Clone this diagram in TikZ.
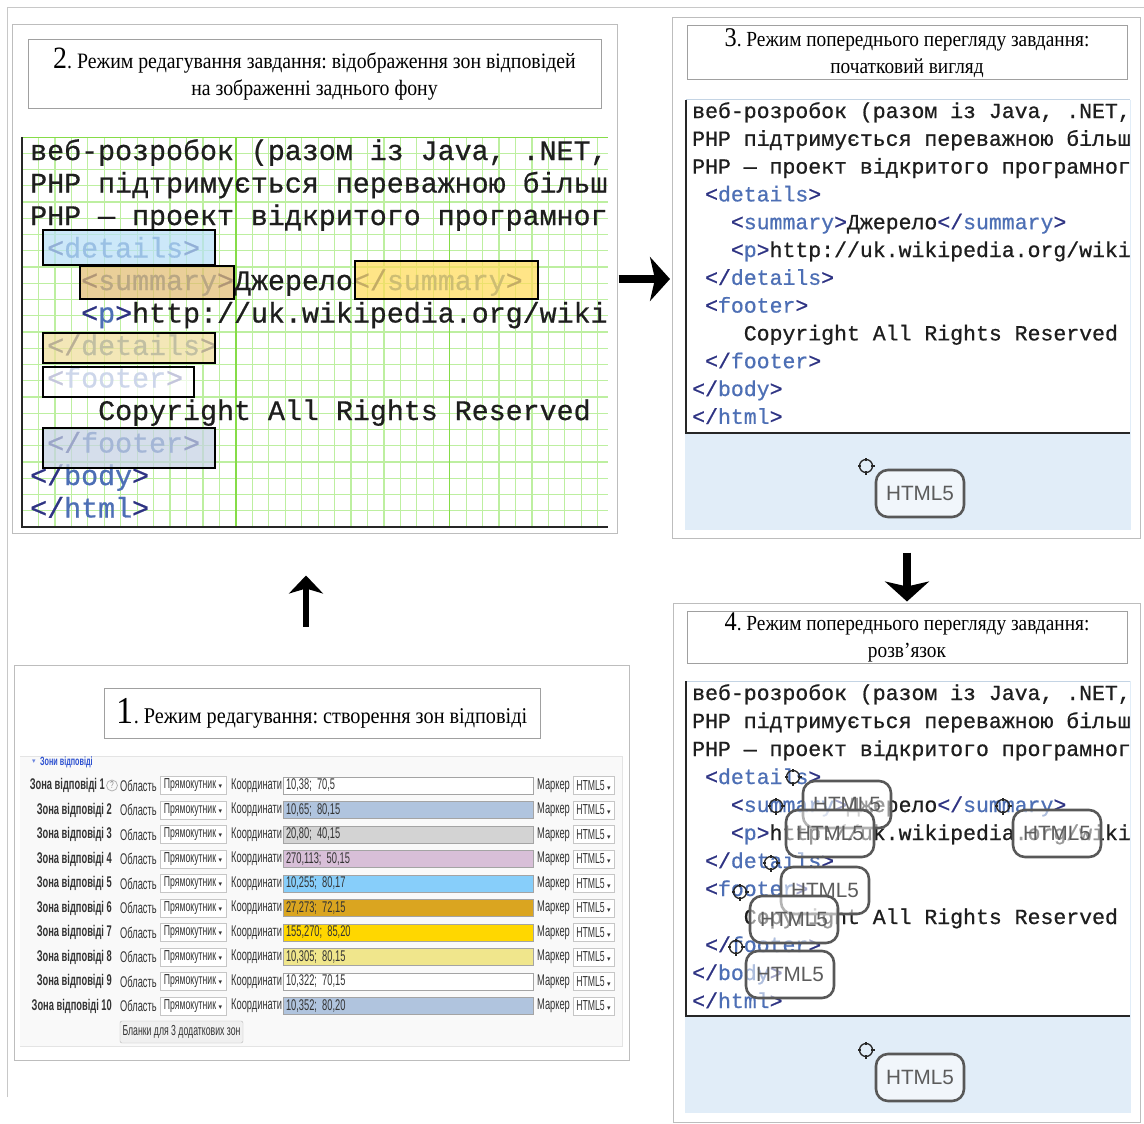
\documentclass[tikz,border=0pt]{standalone}
\usepackage{fontspec}
\setmainfont{Liberation Serif}
\newfontfamily\titlefont[FakeStretch=0.9]{Liberation Serif}
\newfontfamily\codefont[FakeBold=0.7]{Liberation Mono}
\newfontfamily\formfont[FakeStretch=0.6]{Liberation Sans}
\newfontfamily\markfont{Liberation Sans}
\newfontfamily\symfont{DejaVu Sans}
\usetikzlibrary{arrows.meta}

\definecolor{panelline}{HTML}{BDBDBD}
\definecolor{titleline}{HTML}{A0A0A0}
\definecolor{framecol}{HTML}{C8C8C8}
\definecolor{gridminor}{HTML}{BDEFA0}
\definecolor{gridmajor}{HTML}{86DC48}
\definecolor{codetext}{HTML}{1E1E1E}
\definecolor{tagbr}{HTML}{2E3383}
\definecolor{tagnm}{HTML}{4D6FB5}
\definecolor{paleblue}{HTML}{E1EDF8}
\definecolor{paleedge}{HTML}{C4D4E4}
\definecolor{markline}{HTML}{585858}
\definecolor{marktext}{HTML}{5C5C5C}
\definecolor{zdetails}{HTML}{B9E0F7}
\definecolor{zsummary}{HTML}{E3BD72}
\definecolor{zsumclose}{HTML}{FFDC5A}
\definecolor{zdetclose}{HTML}{EFDF9C}
\definecolor{zfootclose}{HTML}{C6D2E4}
\definecolor{formblue}{HTML}{2C50D0}
\definecolor{formtext}{HTML}{333333}
\definecolor{formbg}{HTML}{F9F9F9}
\definecolor{formedge}{HTML}{E4E4E4}
\definecolor{selline}{HTML}{C6C6C6}
\definecolor{inline}{HTML}{A4A4A4}
\definecolor{csteel}{HTML}{B0C4DE}
\definecolor{cgray}{HTML}{D3D3D3}
\definecolor{cthistle}{HTML}{D8BFD8}
\definecolor{csky}{HTML}{87CEFA}
\definecolor{cgoldrod}{HTML}{DAA520}
\definecolor{cgold}{HTML}{FFD700}
\definecolor{ckhaki}{HTML}{F0E68C}

% tag brackets and tag names in the listings
\newcommand\cbr[1]{\textcolor{tagbr}{#1}}
\newcommand\cnm[1]{\textcolor{tagnm}{#1}}
\newcommand\dropdown{{\symfont\fontsize{7}{7}\selectfont\textcolor{formtext}{▾}}}

% the HTML listing: #1 name prefix, #2 left x, #3 first baseline, #4 line step, #5 character width
\newcommand\codeblock[5]{%
  \node[codeline] (#1a) at (#2,#3) {веб-розробок (разом із Java, .NET,};
  \node[codeline] (#1b) at (#2,{#3+#4}) {PHP підтримується переважною більш};
  \node[codeline] (#1c) at (#2,{#3+2*#4}) {PHP — проект відкритого програмног};
  \node[codeline] (#1d) at ({#2+#5},{#3+3*#4}) {\cbr{<}\cnm{details}\cbr{>}};
  \node[codeline] (#1e) at ({#2+3*#5},{#3+4*#4}) {\cbr{<}\cnm{summary}\cbr{>}Джерело\cbr{</}\cnm{summary}\cbr{>}};
  \node[codeline] (#1f) at ({#2+3*#5},{#3+5*#4}) {\cbr{<}\cnm{p}\cbr{>}http://uk.wikipedia.org/wiki};
  \node[codeline] (#1g) at ({#2+#5},{#3+6*#4}) {\cbr{</}\cnm{details}\cbr{>}};
  \node[codeline] (#1h) at ({#2+#5},{#3+7*#4}) {\cbr{<}\cnm{footer}\cbr{>}};
  \node[codeline] (#1i) at ({#2+4*#5},{#3+8*#4}) {Copyright All Rights Reserved};
  \node[codeline] (#1j) at ({#2+#5},{#3+9*#4}) {\cbr{</}\cnm{footer}\cbr{>}};
  \node[codeline] (#1k) at (#2,{#3+10*#4}) {\cbr{</}\cnm{body}\cbr{>}};
  \node[codeline] (#1l) at (#2,{#3+11*#4}) {\cbr{</}\cnm{html}\cbr{>}};
}

% a draggable marker: #1 name, #2,#3 top-left corner of the label
\newcommand\htmlmark[3]{%
  \node[markbox] (#1) at ({#2+44},{#3+23.5}) {HTML5};
  \coordinate (#1c) at ({#2-10},{#3-4});
  \draw[aimring] (#1c) circle[radius=6.5pt];
  \draw[aimtick] ([yshift=5pt]#1c) -- ([yshift=8.5pt]#1c)
                 ([yshift=-5pt]#1c) -- ([yshift=-8.5pt]#1c)
                 ([xshift=5pt]#1c) -- ([xshift=8.5pt]#1c)
                 ([xshift=-5pt]#1c) -- ([xshift=-8.5pt]#1c);
}

% one row of the drop-zone form: #1 number, #2 y, #3 coordinates, #4 field colour, #5 label right edge
\newcommand\formrow[5]{%
  \node[formtxt, font=\formfont\bfseries\fontsize{15.5}{17}\selectfont, anchor=east] (lab#1) at (#5,#2) {Зона відповіді #1};
  \node[formtxt, anchor=west] (ob#1) at (120,#2) {Область};
  \node[selbox, minimum width=66pt] (sh#1) at (193,#2) {Прямокутник\,\dropdown};
  \node[formtxt, anchor=west] (co#1) at (231,#2) {Координати};
  \node[inbox, fill=#4] (in#1) at (408,#2) {#3};
  \node[formtxt, anchor=west] (mk#1) at (537,#2) {Маркер};
  \node[selbox, minimum width=41pt] (ms#1) at (593.5,#2) {HTML5\,\dropdown};
}

\begin{document}
\frenchspacing
\begin{tikzpicture}[x=1pt, y=-1pt,
  panel/.style={draw=panelline, line width=1pt, fill=white, inner sep=0pt},
  titlebox/.style={draw=titleline, line width=1pt, fill=white, inner sep=0pt, align=center, text=black},
  codeline/.style={anchor=base west, inner sep=0pt, text=codetext},
  zone/.style={draw=black, line width=1.8pt, fill opacity=0.72, draw opacity=1, inner sep=0pt},
  markbox/.style={draw=markline, line width=2.6pt, rounded corners=12pt, minimum width=88pt,
    minimum height=47pt, inner sep=0pt, fill=white, fill opacity=0.55, draw opacity=1,
    text opacity=1, text=marktext, font=\markfont\fontsize{20.7}{24}\selectfont},
  aimring/.style={draw=black!85, line width=1.3pt},
  aimtick/.style={draw=black!85, line width=1.7pt},
  flowarrow/.style={draw=black, line width=7.5pt, -{Stealth[length=20pt, width=44pt, inset=5pt]}},
  flowarrowthin/.style={draw=black, line width=6pt, -{Stealth[length=18pt, width=34pt, inset=5pt]}},
  formtxt/.style={inner sep=0pt, text=formtext, font=\formfont\fontsize{15.5}{17}\selectfont},
  selbox/.style={draw=selline, fill=white, minimum height=18pt, inner xsep=2pt, inner ysep=0pt,
    text=formtext, font=\formfont\fontsize{14.5}{16}\selectfont},
  inbox/.style={draw=inline, minimum height=17pt, text width=244pt, align=left, inner xsep=3pt,
    inner ysep=0pt, text=formtext, font=\formfont\fontsize{15.5}{17}\selectfont},
  gridthin/.style={draw=gridminor, line width=1.2pt},
  gridthick/.style={draw=gridmajor, line width=1.4pt}
]
\useasboundingbox (0,0) rectangle (1144,1124);
\fill[white] (0,0) rectangle (1144,1124);

% outer frame
\draw[framecol, line width=1pt] (7,1097) -- (7,8) -- (1144,8);

% the four panels
\node[panel, minimum width=605pt, minimum height=508pt] (p2) at (314.5,279) {};
\node[panel, minimum width=468pt, minimum height=520pt] (p3) at (906,278) {};
\node[panel, minimum width=467pt, minimum height=519pt] (p4) at (906.5,862.5) {};
\node[panel, minimum width=615pt, minimum height=395pt] (p1) at (321.5,862.5) {};

% panel titles
\node[titlebox, minimum width=573pt, minimum height=68pt, font=\titlefont\fontsize{22}{27}\selectfont] (t2) at (314.5,74)
  {{\fontsize{31}{27}\selectfont 2}. Режим редагування завдання: відображення зон відповідей\\на зображенні заднього фону};
\node[titlebox, minimum width=440pt, minimum height=54pt, font=\titlefont\fontsize{21.5}{27}\selectfont] (t3) at (907,53)
  {{\fontsize{27}{27}\selectfont 3}. Режим попереднього перегляду завдання:\\початковий вигляд};
\node[titlebox, minimum width=440pt, minimum height=52pt, font=\titlefont\fontsize{21.5}{27}\selectfont] (t4) at (907,637)
  {{\fontsize{27}{27}\selectfont 4}. Режим попереднього перегляду завдання:\\розв’язок};
\node[titlebox, minimum width=436pt, minimum height=50pt, font=\titlefont\fontsize{22.5}{27}\selectfont] (t1) at (322,713)
  {{\fontsize{38}{27}\selectfont 1}. Режим редагування: створення зон відповіді};

% ---- panel 2: background image with the answer zones on a grid
\begin{scope}
  \clip (22,137) rectangle (608,527);
  \fill[white] (22,137) rectangle (608,527);
  \foreach \i in {0,...,36} \draw[gridthin] ({22+\i*16.45},137) -- ({22+\i*16.45},527);
  \foreach \j in {0,...,24} \draw[gridthin] (22,{137+\j*16.25}) -- (608,{137+\j*16.25});
  \foreach \i in {13,26} \draw[gridthick] ({22+\i*16.45},137) -- ({22+\i*16.45},527);
  \begin{scope}[codeline/.append style={font=\codefont\fontsize{28.3}{30}\selectfont}]
    \codeblock{bg}{30}{160}{32.5}{17}
  \end{scope}
\end{scope}
\draw[gridmajor, line width=1pt] (22,137) -- (608,137);
\draw[black!85, line width=2pt] (22,137) -- (22,527) -- (608,527);
\node[zone, fill=zdetails, minimum width=172pt, minimum height=35pt] (z2) at (129,247.5) {};
\node[zone, fill=zsummary, minimum width=154pt, minimum height=33pt] (z6) at (157,282.5) {};
\node[zone, fill=zsumclose, minimum width=183pt, minimum height=38pt] (z7) at (446.5,280) {};
\node[zone, fill=zdetclose, minimum width=172pt, minimum height=30pt] (z8) at (129,348) {};
\node[zone, fill=white, minimum width=151pt, minimum height=30pt] (z9) at (118.5,382) {};
\node[zone, fill=zfootclose, minimum width=172pt, minimum height=40pt] (z10) at (129,448) {};

% ---- panel 3: preview, initial state
\fill[paleblue] (685,100) rectangle (1131,530);
\begin{scope}
  \clip (686,100) rectangle (1130,433);
  \fill[white] (686,100) rectangle (1130,433);
  \begin{scope}[codeline/.append style={font=\codefont\fontsize{21.5}{24}\selectfont}]
    \codeblock{pa}{692}{118}{27.8}{12.9}
  \end{scope}
\end{scope}
\draw[paleedge, line width=1pt] (686,100) -- (1130,100);
\draw[black!85, line width=2pt] (686,100) -- (686,433) -- (1130,433);
\htmlmark{m3}{876}{470}

% ---- panel 4: preview, solved
\fill[paleblue] (685,681) rectangle (1131,1113);
\begin{scope}
  \clip (686,681) rectangle (1130,1016);
  \fill[white] (686,681) rectangle (1130,1016);
  \begin{scope}[codeline/.append style={font=\codefont\fontsize{21.5}{24}\selectfont}]
    \codeblock{pb}{692}{700}{28.0}{12.9}
  \end{scope}
\end{scope}
\draw[paleedge, line width=1pt] (686,681) -- (1130,681);
\draw[black!85, line width=2pt] (686,681) -- (686,1016) -- (1130,1016);
\htmlmark{s1}{803}{781}
\htmlmark{s2}{786}{810}
\htmlmark{s3}{1013}{810}
\htmlmark{s4}{781}{867}
\htmlmark{s5}{750}{896}
\htmlmark{s6}{746}{951}
\htmlmark{m4}{876}{1054}

% ---- panel 1: drop-zone settings form
\fill[formbg] (20,756) rectangle (622,1046);
\draw[formedge, line width=1pt] (20,756) -- (622,756) -- (622,1046) -- (20,1046);
\node[inner sep=0pt, text=formblue!70, font=\symfont\fontsize{7}{7}\selectfont] (hdrarrow) at (34,762) {▾};
\node[anchor=west, inner sep=0pt, text=formblue, font=\formfont\bfseries\fontsize{12}{13}\selectfont] (hdr) at (40,762) {Зони відповіді};
\formrow{1}{785.5}{10,38; 70,5}{white}{105}
\node[circle, draw=gray!60, line width=0.8pt, inner sep=0pt, minimum size=11pt, text=gray,
  font=\formfont\fontsize{10}{10}\selectfont] (help) at (112,785.5) {?};
\formrow{2}{810}{10,65; 80,15}{csteel}{112}
\formrow{3}{834.5}{20,80; 40,15}{cgray}{112}
\formrow{4}{859}{270,113; 50,15}{cthistle}{112}
\formrow{5}{883.5}{10,255; 80,17}{csky}{112}
\formrow{6}{908}{27,273; 72,15}{cgoldrod}{112}
\formrow{7}{932.5}{155,270; 85,20}{cgold}{112}
\formrow{8}{957}{10,305; 80,15}{ckhaki}{112}
\formrow{9}{981.5}{10,322; 70,15}{white}{112}
\formrow{10}{1006}{10,352; 80,20}{csteel}{112}
\node[draw=gray!55, fill=gray!12, rounded corners=2pt, minimum width=123pt, minimum height=22pt,
  inner sep=0pt, text=formtext, font=\formfont\fontsize{14.5}{16}\selectfont] (blanks) at (181.5,1032)
  {Бланки для 3 додаткових зон};

% ---- flow between the panels
\coordinate (upx) at (306,0);
\coordinate (dnx) at (907,0);
\draw[flowarrow, shorten <=1pt, shorten >=1.5pt] (p2.east) -- (p2.east -| p3.west);
\draw[flowarrow, shorten <=14pt, shorten >=1pt] (p3.south -| dnx) -- (p4.north -| dnx);
\draw[flowarrowthin, shorten <=38pt, shorten >=42pt] (p1.north -| upx) -- (p2.south -| upx);
\end{tikzpicture}
\end{document}
